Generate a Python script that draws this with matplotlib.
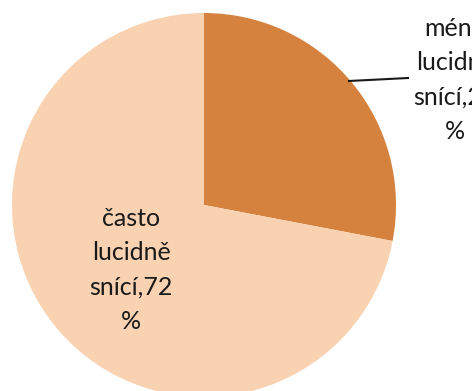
import matplotlib
matplotlib.use("Agg")
import matplotlib.pyplot as plt

# slice data (first slice starts at 12 o'clock, clockwise)
labels = ["méně\nlucidně\nsnící", "často\nlucidně\nsnící"]
values = [28, 72]
colors = ["#D5823F", "#F9D2B2"]

plt.rcParams['font.family'] = ['Lato', 'DejaVu Sans']

fig = plt.figure(figsize=(4.72, 3.91), dpi=100)
ax = fig.add_axes([0, 0, 1, 1])

cx, cy, r = 204, 186, 192
ax.pie(values, colors=colors, startangle=90, counterclock=False,
       center=(cx, cy), radius=r, frame=True,
       wedgeprops=dict(linewidth=0))
ax.set_xlim(0, 472)
ax.set_ylim(0, 391)
ax.set_aspect("equal")
ax.axis("off")

texts = [f"{lab},{v}\n%" for lab, v in zip(labels, values)]
# label positions (pixel coords of figure)
ax.text(455, 311, texts[0], ha="center", va="center", fontsize=18,
        linespacing=1.6, color="#1a1a1a")
ax.text(131, 121, texts[1], ha="center", va="center", fontsize=18,
        linespacing=1.6, color="#1a1a1a")

# leader line for the small slice
ax.plot([349, 408], [310, 313], color="#1a1a1a", lw=1.5)

fig.savefig("out.png", dpi=100)
